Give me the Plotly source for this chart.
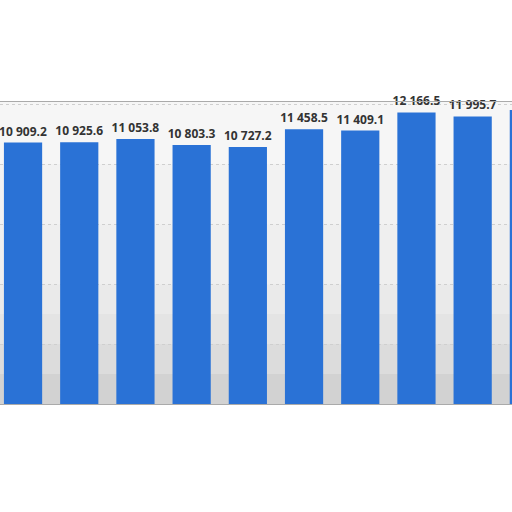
import plotly.graph_objects as go

# yearly values (last one is cut off at the right edge)
years = [2010, 2011, 2012, 2013, 2014, 2015, 2016, 2017, 2018, 2019]
values = [10909.2, 10925.6, 11053.8, 10803.3, 10727.2, 11458.5, 11409.1, 12166.5, 11995.7, 12263.4]

idx = list(range(len(years)))

fig = go.Figure()
fig.add_trace(go.Bar(
    x=idx,
    y=values,
    marker_color="#2a72d6",
    marker_line_width=0,
    texttemplate="%{y:,.1f}",
    textposition="outside",
    constraintext="none",
    textfont=dict(family="Open Sans", size=12, color="#333333", weight="bold"),
    cliponaxis=False,
))

# light gray band behind the bars, darker towards the bottom
bands = [(0, 1250, "#d2d2d2"), (1250, 2500, "#dcdcdc"), (2500, 3750, "#e4e4e4"),
         (3750, 5000, "#eaeaea"), (5000, 7500, "#efefef"), (7500, 10000, "#f2f2f2"),
         (10000, 12600, "#f6f6f6")]
for y0, y1, col in bands:
    fig.add_shape(type="rect", xref="paper", x0=0, x1=1, y0=y0, y1=y1,
                  fillcolor=col, line_width=0, layer="below")

fig.update_layout(
    width=512, height=512,
    margin=dict(l=0, r=0, t=102, b=108),
    paper_bgcolor="white",
    plot_bgcolor="#f0f0f0",
    separators=". ",
    bargap=0.32,
    showlegend=False,
)
fig.update_xaxes(range=[-0.41, 8.70], showticklabels=False, showgrid=False,
                 zeroline=False, showline=True, mirror=True,
                 linecolor="#aaaaaa", linewidth=1)
fig.update_yaxes(range=[0, 12600], dtick=2500, showticklabels=False,
                 gridcolor="#cfcfcf", griddash="dot", zeroline=False)

fig.write_html("out.html", config={"responsive": False, "displayModeBar": False},
               post_script="document.body.style.margin='0';document.body.style.overflow='hidden';")
